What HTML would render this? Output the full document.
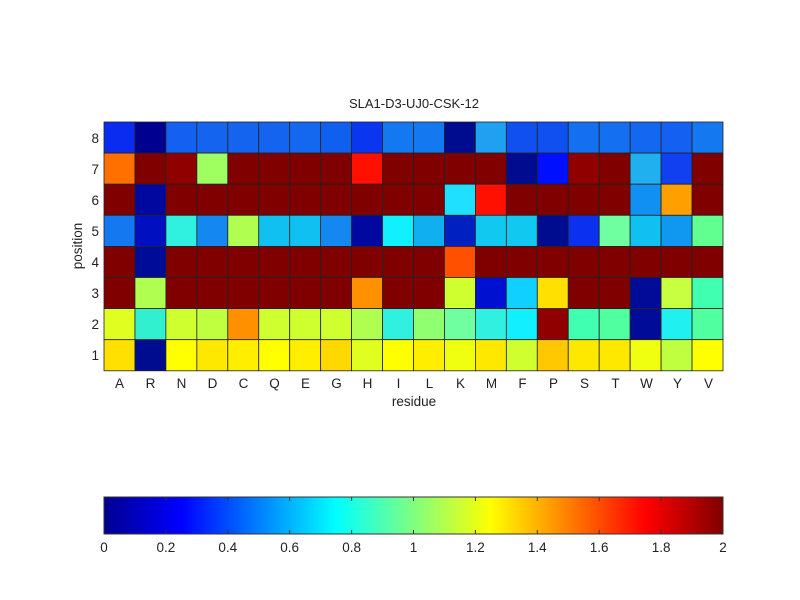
<!DOCTYPE html>
<html><head><meta charset="utf-8"><style>
html,body{margin:0;padding:0;background:#fff;}
svg{display:block;font-family:"Liberation Sans",sans-serif;}
</style></head><body>
<svg id="s" width="800" height="600" viewBox="0 0 800 600" xmlns="http://www.w3.org/2000/svg">
<defs>
<linearGradient id="jet" x1="0" x2="1" y1="0" y2="0">
<stop offset="0" stop-color="#00008f"/>
<stop offset="0.125" stop-color="#0000ff"/>
<stop offset="0.375" stop-color="#00ffff"/>
<stop offset="0.625" stop-color="#ffff00"/>
<stop offset="0.875" stop-color="#ff0000"/>
<stop offset="1" stop-color="#800000"/>
</linearGradient>
</defs>
<rect width="800" height="600" fill="#fff"/>
<g id="cells"></g>
<text x="414" y="108" font-size="13" text-anchor="middle" fill="#222">SLA1-D3-UJ0-CSK-12</text>
<g font-size="13.5" fill="#222" text-anchor="end">
<text x="99" y="143">8</text><text x="99" y="174">7</text><text x="99" y="205">6</text><text x="99" y="236">5</text>
<text x="99" y="267">4</text><text x="99" y="298">3</text><text x="99" y="329">2</text><text x="99" y="360">1</text>
</g>
<g font-size="13.5" fill="#222" text-anchor="middle" id="xl">
<text x="119.5" y="388">A</text><text x="150.5" y="388">R</text><text x="181.5" y="388">N</text><text x="212.5" y="388">D</text><text x="243.5" y="388">C</text><text x="274.5" y="388">Q</text><text x="305.5" y="388">E</text><text x="336.5" y="388">G</text><text x="367.5" y="388">H</text><text x="398.5" y="388">I</text><text x="429.5" y="388">L</text><text x="460.5" y="388">K</text><text x="491.5" y="388">M</text><text x="522.5" y="388">F</text><text x="553.5" y="388">P</text><text x="584.5" y="388">S</text><text x="615.5" y="388">T</text><text x="646.5" y="388">W</text><text x="677.5" y="388">Y</text><text x="708.5" y="388">V</text>
</g>
<text x="414" y="406" font-size="13.5" text-anchor="middle" fill="#222">residue</text>
<text transform="translate(82,246) rotate(-90)" font-size="13.5" text-anchor="middle" fill="#222">position</text>
<rect x="104" y="497" width="619" height="37" fill="url(#jet)" stroke="#333" stroke-width="1"/>
<g id="cbt" stroke="#333" stroke-width="1"></g>
<g font-size="13.5" fill="#222" text-anchor="middle">
<text x="104" y="552">0</text><text x="165.9" y="552">0.2</text><text x="227.8" y="552">0.4</text><text x="289.7" y="552">0.6</text><text x="351.6" y="552">0.8</text><text x="413.5" y="552">1</text><text x="475.4" y="552">1.2</text><text x="537.3" y="552">1.4</text><text x="599.2" y="552">1.6</text><text x="661.1" y="552">1.8</text><text x="723" y="552">2</text>
</g>
</svg>
<script>
var M='#800000';
var rows=[
['#0a2cf0','#000090','#1460f0','#1464f0','#1464f0','#1464f0','#1468f0','#1060f0','#0a36f0','#1478f0','#1478f0','#000c90','#20a0f0','#1050f0','#1050f0','#1470f0','#1470f0','#1468f0','#1460f0','#1478f0'],
['#ff7000',M,'#900000','#a0ff60',M,M,M,M,'#ff1000',M,M,M,M,'#000c90','#0010ff','#900000',M,'#20b0f0','#1040f0',M],
[M,'#0008a0',M,M,M,M,M,M,M,M,M,'#20e0ff','#ff1000',M,M,M,M,'#1090f0','#ffa000',M],
['#1478f0','#0010c0','#30f0e0','#1488f0','#b0ff50','#10c0f0','#10c0f0','#1488f0','#0008a0','#10f0ff','#10b0f0','#0020c0','#10c8f0','#10c8f0','#000c90','#0c30f0','#70ffa0','#10c0f0','#1098f0','#60ff90'],
[M,'#000c98',M,M,M,M,M,M,M,M,M,'#ff5000',M,M,M,M,M,M,M,M],
[M,'#b0ff50',M,M,M,M,M,M,'#ff9000',M,M,'#d0ff30','#0010d0','#10d0ff','#ffe000',M,M,'#000c98','#c8ff40','#40ffb0'],
['#e0ff20','#30f0d0','#d0ff30','#c0ff40','#ff9000','#d0ff30','#d0ff30','#d0ff30','#b0ff50','#30f0e0','#90ff70','#70ffa0','#30f0e0','#10f0ff','#900000','#40ffb0','#50ffa0','#000c98','#20f0f0','#50ffa0'],
['#ffe000','#000c90','#ffff00','#ffe800','#ffee00','#ffff00','#ffee00','#ffd800','#e0ff20','#ffff00','#ffee00','#f0ff10','#ffe800','#d0ff30','#ffc800','#ffe800','#ffe800','#f0ff10','#c0ff40','#ffff00']];
var g=document.getElementById('cells'),h='';
for(var r=0;r<8;r++)for(var c=0;c<20;c++){
h+='<rect x="'+(104+c*30.95)+'" y="'+(122+r*31.1)+'" width="30.95" height="31.1" fill="'+rows[r][c]+'" stroke="#222" stroke-width="0.8"/>';}
g.innerHTML=h;
var t='';for(var i=1;i<10;i++){var x=104+i*61.9;t+='<line x1="'+x+'" y1="497" x2="'+x+'" y2="501"/><line x1="'+x+'" y1="530" x2="'+x+'" y2="534"/>';}
document.getElementById('cbt').innerHTML=t;
</script>
</body></html>
